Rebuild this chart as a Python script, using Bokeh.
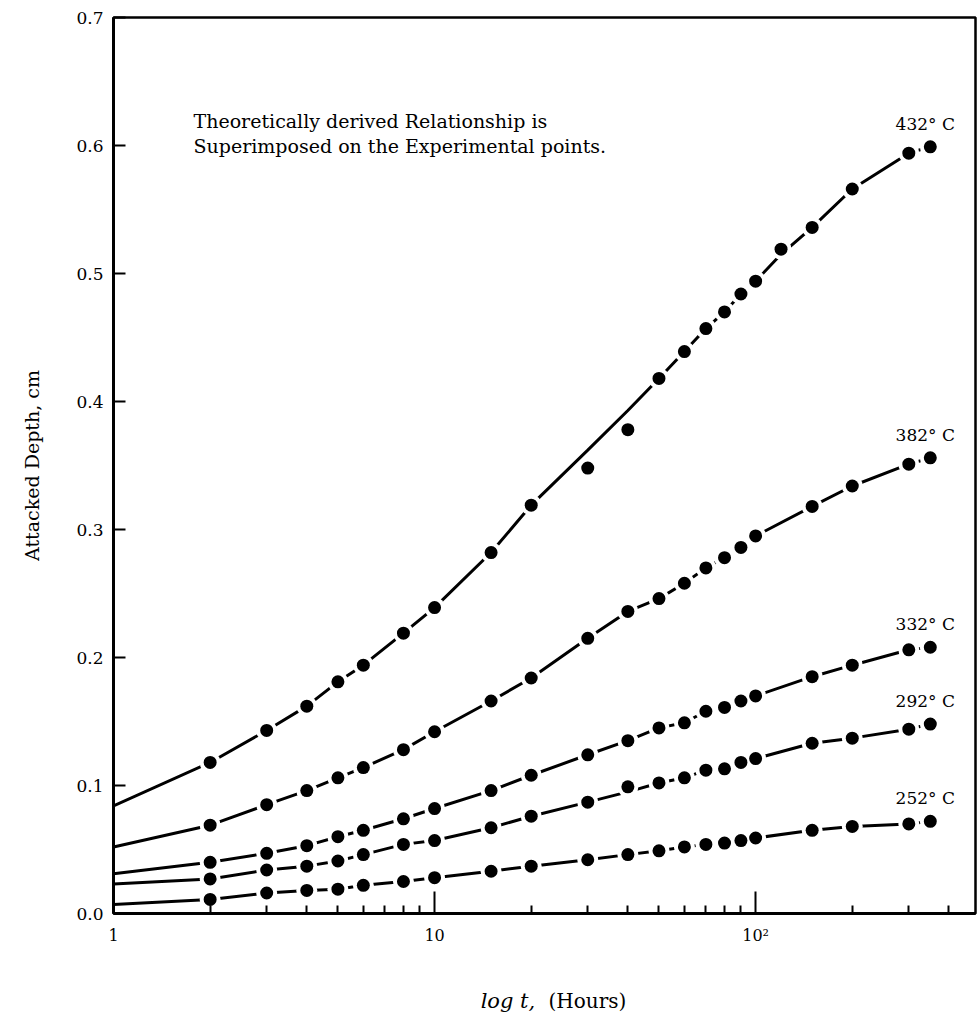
from bokeh.plotting import figure
from bokeh.layouts import column
from bokeh.models import Range1d, FixedTicker, CustomJSTickFormatter, NumeralTickFormatter, Label
from bokeh.core.properties import value
from bokeh.embed import file_html
from bokeh.resources import INLINE

# ---------------- data ----------------
hours = [2, 3, 4, 5, 6, 8, 10, 15, 20, 30, 40, 50, 60, 70, 80, 90, 100, 150, 200, 300, 350]
hours_432 = [2, 3, 4, 5, 6, 8, 10, 15, 20, 30, 40, 50, 60, 70, 80, 90, 100, 120, 150, 200, 300, 350]

depth_432 = [0.118, 0.143, 0.162, 0.181, 0.194, 0.219, 0.239, 0.282, 0.319, 0.348, 0.378, 0.418,
             0.439, 0.457, 0.470, 0.484, 0.494, 0.519, 0.536, 0.566, 0.594, 0.599]
depth_382 = [0.069, 0.085, 0.096, 0.106, 0.114, 0.128, 0.142, 0.166, 0.184, 0.215, 0.236, 0.246,
             0.258, 0.270, 0.278, 0.286, 0.295, 0.318, 0.334, 0.351, 0.356]
depth_332 = [0.040, 0.047, 0.053, 0.060, 0.065, 0.074, 0.082, 0.096, 0.108, 0.124, 0.135, 0.145,
             0.149, 0.158, 0.161, 0.166, 0.170, 0.185, 0.194, 0.206, 0.208]
depth_292 = [0.027, 0.034, 0.037, 0.041, 0.046, 0.054, 0.057, 0.067, 0.076, 0.087, 0.099, 0.102,
             0.106, 0.112, 0.113, 0.118, 0.121, 0.133, 0.137, 0.144, 0.148]
depth_252 = [0.011, 0.016, 0.018, 0.019, 0.022, 0.025, 0.028, 0.033, 0.037, 0.042, 0.046, 0.049,
             0.052, 0.054, 0.055, 0.057, 0.059, 0.065, 0.068, 0.070, 0.072]

# theoretical curves
curve_hours = [1] + hours
curve_hours_432 = [1] + hours_432
curve_432 = [0.084, 0.118, 0.143, 0.162, 0.181, 0.194, 0.219, 0.239, 0.282, 0.319, 0.362, 0.393,
             0.418, 0.439, 0.457, 0.470, 0.484, 0.494, 0.515, 0.536, 0.566, 0.594, 0.599]
curve_382 = [0.052] + depth_382
curve_332 = [0.031] + depth_332
curve_292 = [0.023, 0.027, 0.034, 0.037, 0.041, 0.046, 0.054, 0.057, 0.067, 0.076, 0.087, 0.095,
             0.102, 0.106, 0.112, 0.113, 0.118, 0.121, 0.133, 0.137, 0.144, 0.148]
curve_252 = [0.007] + depth_252

temp_labels = ["432° C", "382° C", "332° C", "292° C", "252° C"]

y_ticks = [0.0, 0.1, 0.2, 0.3, 0.4, 0.5, 0.6, 0.7]
x_tick_values = [1, 10, 100]
x_tick_labels = ["1", "10", "10²"]
x_minor = [2, 3, 4, 5, 6, 7, 8, 9, 20, 30, 40, 50, 60, 70, 80, 90, 200, 300, 400]

note_lines = ["Theoretically derived Relationship is",
              "Superimposed on the Experimental points."]
x_label_italic = "log t,"
x_label_plain = "(Hours)"

FONT = "DejaVu Serif"

# ---------------- main figure ----------------
p = figure(width=977, height=960, x_axis_type="log",
           x_range=Range1d(1, 484), y_range=Range1d(0, 0.7),
           output_backend="svg", toolbar_location=None,
           min_border_left=113, min_border_right=2, min_border_top=17, min_border_bottom=47,
           background_fill_color="white", border_fill_color="white")
p.grid.visible = False
p.outline_line_color = "black"
p.outline_line_width = 2.5

# x axis
xa = p.xaxis[0]
xa.ticker = FixedTicker(ticks=x_tick_values, minor_ticks=x_minor)
xa.formatter = CustomJSTickFormatter(args=dict(vals=x_tick_values, labs=x_tick_labels), code="""
    for (let i = 0; i < vals.length; i++) { if (Math.abs(vals[i] - tick) < 1e-6 * vals[i]) return labs[i]; }
    return '';
""")
xa.axis_line_width = 3
xa.major_tick_in = 22
xa.major_tick_out = 0
xa.minor_tick_in = 8
xa.minor_tick_out = 0
xa.major_tick_line_width = 2
xa.minor_tick_line_width = 2
xa.major_label_text_font = FONT
xa.major_label_text_font_size = "16px"
xa.major_label_standoff = 12
xa.major_label_text_color = "black"

# y axis
ya = p.yaxis[0]
ya.ticker = FixedTicker(ticks=y_ticks, minor_ticks=[])
ya.formatter = NumeralTickFormatter(format="0.0")
ya.axis_line_width = 3
ya.major_tick_in = 12
ya.major_tick_out = 0
ya.minor_tick_in = 0
ya.minor_tick_out = 0
ya.major_tick_line_width = 2
ya.major_label_text_font = FONT
ya.major_label_text_font_size = "17px"
ya.major_label_standoff = 10
ya.major_label_text_color = "black"
ya.axis_label = "Attacked Depth, cm"
ya.axis_label_text_font = FONT
ya.axis_label_text_font_style = "normal"
ya.axis_label_text_font_size = "19px"
ya.axis_label_standoff = 30
ya.axis_label_text_color = "black"

# curves
curves = [(curve_hours_432, curve_432), (curve_hours, curve_382), (curve_hours, curve_332),
          (curve_hours, curve_292), (curve_hours, curve_252)]
for cx, cy in curves:
    p.line(cx, cy, line_color="black", line_width=3)

points = [(hours_432, depth_432), (hours, depth_382), (hours, depth_332),
          (hours, depth_292), (hours, depth_252)]
for px, py in points:
    p.scatter(px, py, size=21, fill_color="white", line_color=None)
for px, py in points:
    p.scatter(px, py, size=13, fill_color="black", line_color=None)

# temperature labels above the last point of each curve
p.text(x=[pts[0][-1] for pts in points], y=[pts[1][-1] for pts in points], text=temp_labels,
       x_offset=-5, y_offset=-23, text_align="center", text_baseline="middle",
       text_font=value(FONT), text_font_size="17px", text_color="black")

# note text
for i, line in enumerate(note_lines):
    p.add_layout(Label(x=80, y=793 - 25 * i, x_units="screen", y_units="screen", text=line,
                       text_align="left", text_baseline="middle", text_font=FONT,
                       text_font_size="19px", text_color="black"))

# ---------------- strip below for the x axis title (mixed styles) ----------------
p2 = figure(width=977, height=52, x_range=Range1d(0, 977), y_range=Range1d(52, 0),
            output_backend="svg", toolbar_location=None, min_border=0,
            x_axis_location=None, y_axis_location=None,
            background_fill_color="white", border_fill_color="white")
p2.grid.visible = False
p2.outline_line_color = None
p2.text(x=[478], y=[40], text=[x_label_italic], text_align="right", text_baseline="middle",
        text_font=value(FONT), text_font_style="italic", text_font_size="21px", text_color="black")
p2.text(x=[493], y=[40], text=[x_label_plain], text_align="left", text_baseline="middle",
        text_font=value(FONT), text_font_size="20px", text_color="black")

layout = column(p, p2, spacing=0)
open("out.html", "w").write(file_html(layout, INLINE))
